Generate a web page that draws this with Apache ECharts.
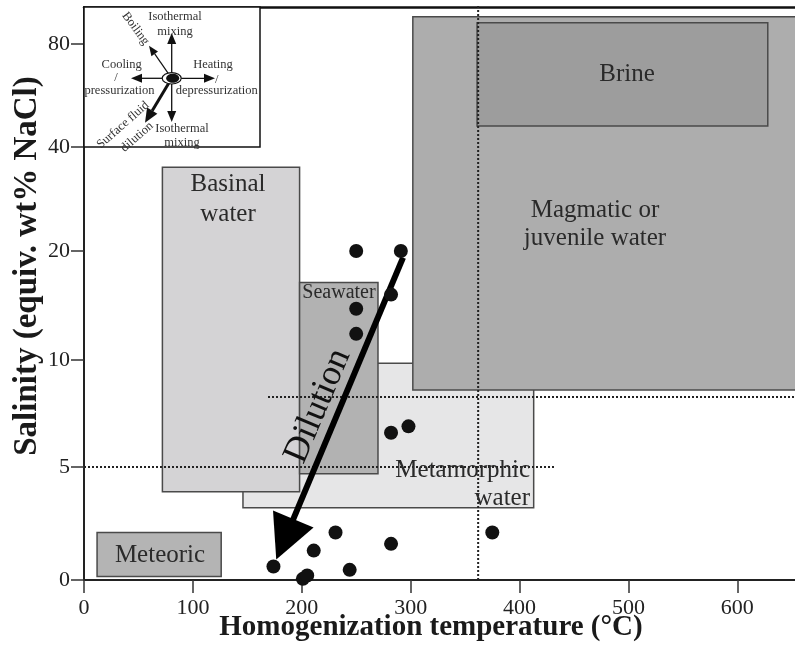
<!DOCTYPE html>
<html>
<head>
<meta charset="utf-8">
<script src="https://cdn.jsdelivr.net/npm/echarts@6.0.0/dist/echarts.min.js"></script>
<style>
html, body { margin: 0; padding: 0; background: #fff; }
#chart { width: 795px; height: 650px; }
</style>
</head>
<body>
<div id="chart"></div>
<script>
// x axis ticks (°C)
const tempTicks = [0, 100, 200, 300, 400, 500, 600];
// salinity axis is hand drawn: ticks are not evenly spaced in value
const salinityTicks = [0, 5, 10, 20, 40, 80];
const salinityTickPos = [0, 113, 220, 329, 433, 536];
const yTop = 573;

// fluid fields, drawn back to front
const fieldNames = ['Metamorphic', 'Basinal', 'Seawater', 'Magmatic', 'Brine', 'Meteoric'];
const fieldTemp = [[146, 413], [72, 198], [198, 270], [302, 670], [361, 628], [12, 126]];
const fieldSalinity = [[3.2, 9.85], [3.9, 36.1], [4.7, 17.1], [8.6, 90.6], [48.2, 88.3], [0.15, 2.1]];
const fieldColors = ['#e6e6e7', '#d4d3d5', '#b2b2b2', '#adadad', '#9d9d9d', '#b4b4b4'];

// fluid inclusion data
const incTemp = [250, 291, 282, 250, 250, 282, 298, 375, 282, 231, 211, 174, 201, 205, 244];
const incSalinity = [20, 20, 16, 14.7, 12.4, 6.6, 6.9, 2.1, 1.6, 2.1, 1.3, 0.6, 0.05, 0.2, 0.45];

// dotted reference lines [t0, s0, t1, s1]
const refLines = [
  [362, 0, 362, 95],
  [0, 5, 432, 5],
  [169, 8.27, 670, 8.27]
];

// dilution trend arrow (start, end)
const dilutionArrow = [[293, 19.4], [184.4, 1.8]];

function salPos(s) {
  const n = salinityTicks.length;
  let i = 1;
  while (i < n - 1 && s > salinityTicks[i]) i++;
  const f = (s - salinityTicks[i - 1]) / (salinityTicks[i] - salinityTicks[i - 1]);
  return salinityTickPos[i - 1] + f * (salinityTickPos[i] - salinityTickPos[i - 1]);
}

const serif = '"Liberation Serif", "DejaVu Serif", serif';

function txt(text, x, y, size, opts) {
  return Object.assign({
    type: 'text', x: x, y: y, z: 50,
    style: Object.assign({
      text: text, font: size + 'px ' + serif, fill: '#2a2a2a',
      align: 'center', verticalAlign: 'middle'
    }, (opts && opts.style) || {})
  }, (opts && opts.el) || {});
}

function insetArrow(x0, y0, x1, y1, w, head, hw) {
  const a = Math.atan2(y1 - y0, x1 - x0);
  const bx = x1 - head * Math.cos(a), by = y1 - head * Math.sin(a);
  return [
    { type: 'line', z: 61, shape: { x1: x0, y1: y0, x2: bx, y2: by }, style: { stroke: '#111', lineWidth: w } },
    { type: 'polygon', z: 61, shape: { points: [[x1, y1], [bx - hw * Math.sin(a), by + hw * Math.cos(a)], [bx + hw * Math.sin(a), by - hw * Math.cos(a)]] }, style: { fill: '#111' } }
  ];
}

const cx = 171.7, cy = 78.3;
const insetFont = 12.5;
const inTxt = (t, x, y, extra) => txt(t, x, y, insetFont, {
  style: Object.assign({ fill: '#333' }, (extra && extra.style) || {}),
  el: Object.assign({ z: 64 }, (extra && extra.el) || {})
});
const inset = [
  { type: 'rect', z: 60, shape: { x: 84, y: 7, width: 176, height: 140 }, style: { fill: '#fff', stroke: '#111', lineWidth: 1.5 } },
  ...insetArrow(cx, cy, cx, 33, 1.3, 11, 4.5),
  ...insetArrow(cx, cy, cx, 122, 1.3, 11, 4.5),
  ...insetArrow(cx, cy, 131, cy, 1.3, 11, 4.5),
  ...insetArrow(cx, cy, 215, cy, 1.3, 11, 4.5),
  ...insetArrow(cx, cy, 149, 45.7, 1.2, 10, 4),
  ...insetArrow(cx, cy, 145, 122.7, 3, 14, 6),
  { type: 'ellipse', z: 62, shape: { cx: cx, cy: cy, rx: 9.5, ry: 5.7 }, style: { fill: '#fff', stroke: '#111', lineWidth: 1.2 } },
  { type: 'ellipse', z: 63, shape: { cx: cx + 1, cy: cy, rx: 6.5, ry: 4.5 }, style: { fill: '#111' } },
  inTxt('Isothermal\nmixing', 175, 24, { style: { lineHeight: 14.5 } }),
  inTxt('Isothermal\nmixing', 182, 135.5, { style: { lineHeight: 14.5 } }),
  inTxt('Cooling', 121.7, 65),
  inTxt('/', 116, 78),
  inTxt('pressurization', 119.5, 90.5),
  inTxt('Heating', 213, 65),
  inTxt('/', 216.7, 79.5),
  inTxt('depressurization', 216.7, 90.5),
  inTxt('Boiling', 135.5, 28.5, { el: { rotation: -0.93 } }),
  inTxt('Surface fluid', 123, 125, { el: { rotation: 0.72 } }),
  inTxt('dilution', 137, 137, { el: { rotation: 0.72 } })
];

const labels = [
  txt('Brine', 627, 74, 25),
  txt('Magmatic or\njuvenile water', 595, 224, 25, { style: { lineHeight: 28 } }),
  txt('Basinal\nwater', 228, 199, 25, { style: { lineHeight: 30 } }),
  txt('Seawater', 339, 293, 20),
  txt('Metamorphic\nwater', 530, 484, 25, { style: { lineHeight: 28, align: 'right' } }),
  txt('Meteoric', 160, 555, 25),
  txt('Dilution', 318, 406, 36, { style: { fill: '#111' }, el: { rotation: 1.17 } }),
  txt('Homogenization temperature (°C)', 431, 628, 29, { style: { font: 'bold 29px ' + serif, fill: '#1a1a1a' } }),
  txt('Salinity (equiv. wt% NaCl)', 27, 266, 33, { style: { font: 'bold 33px ' + serif, fill: '#1a1a1a' }, el: { rotation: Math.PI / 2 } })
];

const chart = echarts.init(document.getElementById('chart'));

const axisCommon = {
  axisLine: { show: true, lineStyle: { color: '#222', width: 2 } },
  axisTick: { show: true, length: 13, lineStyle: { color: '#333', width: 1.5 } },
  splitLine: { show: false },
  axisLabel: { color: '#222', fontSize: 22, fontFamily: serif }
};

chart.setOption({
  animation: false,
  grid: { left: 84, right: 0, top: 7, bottom: 70, containLabel: false, outerBoundsMode: 'none' },
  xAxis: [
    Object.assign({}, axisCommon, {
      type: 'value', min: 0, max: 653,
      axisTick: Object.assign({}, axisCommon.axisTick, { customValues: tempTicks }),
      axisLabel: Object.assign({}, axisCommon.axisLabel, { customValues: tempTicks, margin: 17 })
    }),
    {
      type: 'value', min: 0, max: 653, position: 'top',
      axisLine: { show: true, lineStyle: { color: '#111', width: 2.5 } },
      axisTick: { show: false }, axisLabel: { show: false }, splitLine: { show: false }
    }
  ],
  yAxis: Object.assign({}, axisCommon, {
    type: 'value', min: 0, max: yTop,
    axisTick: Object.assign({}, axisCommon.axisTick, { customValues: salinityTickPos }),
    axisLabel: Object.assign({}, axisCommon.axisLabel, {
      customValues: salinityTickPos, margin: 14,
      formatter: v => String(salinityTicks[salinityTickPos.indexOf(v)])
    })
  }),
  series: [
    {
      type: 'custom',
      clip: true,
      renderItem: (params, api) => {
        const p0 = api.coord([api.value(0), api.value(2)]);
        const p1 = api.coord([api.value(1), api.value(3)]);
        return {
          type: 'rect',
          shape: { x: p0[0], y: p1[1], width: p1[0] - p0[0], height: p0[1] - p1[1] },
          style: { fill: fieldColors[params.dataIndex], stroke: '#4a4a4a', lineWidth: 1.5 }
        };
      },
      data: fieldNames.map((n, i) => [fieldTemp[i][0], fieldTemp[i][1], salPos(fieldSalinity[i][0]), salPos(fieldSalinity[i][1])])
    },
    ...refLines.map(l => ({
      type: 'line', symbol: 'none', z: 3,
      lineStyle: { color: '#222', width: 2, type: [2, 2] },
      data: [[l[0], salPos(l[1])], [l[2], salPos(l[3])]]
    })),
    {
      type: 'lines', coordinateSystem: 'cartesian2d', z: 4,
      symbol: ['none', 'triangle'], symbolSize: [38, 44],
      lineStyle: { color: '#000', width: 6, opacity: 1, curveness: 0 },
      data: [{ coords: dilutionArrow.map(p => [p[0], salPos(p[1])]) }]
    },
    {
      type: 'scatter', z: 5, symbolSize: 14,
      itemStyle: { color: '#111', opacity: 1 },
      data: incTemp.map((t, i) => [t, salPos(incSalinity[i])])
    }
  ],
  graphic: [...labels, ...inset]
});

window.addEventListener('resize', () => chart.resize());
</script>
</body>
</html>
